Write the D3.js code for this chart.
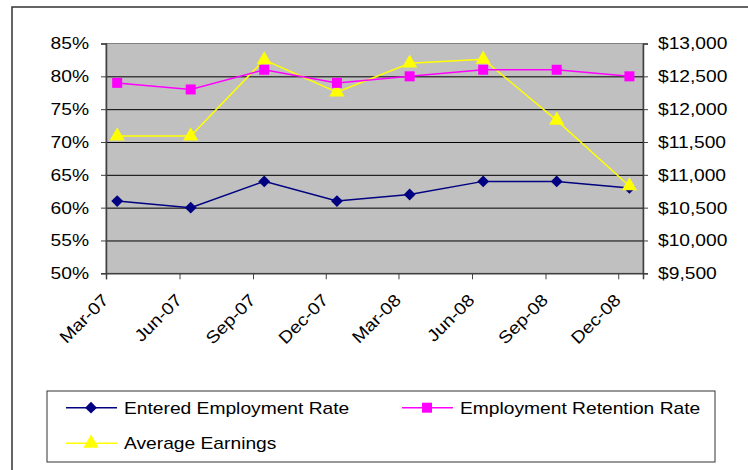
<!DOCTYPE html>
<html><head><meta charset="utf-8">
<script src="https://cdn.jsdelivr.net/npm/d3@7"></script>
<style>
body{margin:0;background:#fff}
text{font-family:"Liberation Sans",Arial,sans-serif;fill:#000}
text.st{font-size:17px}
</style>
</head><body>
<svg id="chart" width="748" height="470"></svg>
<script>
// ---- data ----
const categories = ["Mar-07","Jun-07","Sep-07","Dec-07","Mar-08","Jun-08","Sep-08","Dec-08"];
const tickDates  = ["2007-03-01","2007-06-01","2007-09-01","2007-12-01","2008-03-01","2008-06-01","2008-09-01","2008-12-01"];
const pointDates = ["2007-03-15","2007-06-15","2007-09-15","2007-12-15","2008-03-15","2008-06-15","2008-09-15","2008-12-15"];
const enteredEmploymentRate   = [0.61,0.60,0.64,0.61,0.62,0.64,0.64,0.63];
const employmentRetentionRate = [0.79,0.78,0.81,0.79,0.80,0.81,0.81,0.80];
const averageEarnings         = [11590,11590,12750,12260,12700,12760,11830,10830];
const leftTicks  = [0.50,0.55,0.60,0.65,0.70,0.75,0.80,0.85];
const rightTicks = [9500,10000,10500,11000,11500,12000,12500,13000];
const seriesNames = ["Entered Employment Rate","Employment Retention Rate","Average Earnings"];

// ---- layout ----
const svg = d3.select("#chart");
const P = {l:106, r:643, t:43.5, b:273.3};
const parse = d3.utcParse("%Y-%m-%d");
const x = d3.scaleUtc().domain([parse("2007-03-01"), parse("2009-01-01")]).range([P.l, P.r]);
const yL = d3.scaleLinear().domain([0.5,0.85]).range([P.b, P.t]);
const yR = d3.scaleLinear().domain([9500,13000]).range([P.b, P.t]);
const STRETCH = 1.13;

// outer chart border
svg.append("rect").attr("x",12).attr("y",7).attr("width",800).attr("height",500)
  .attr("fill","#fff").attr("stroke","#333").attr("stroke-width",1.5);

// plot area
svg.append("rect").attr("x",P.l).attr("y",P.t).attr("width",P.r-P.l).attr("height",P.b-P.t)
  .attr("fill","#c0c0c0").attr("stroke","#808080").attr("stroke-width",1);

// gridlines
svg.append("g").attr("transform",`translate(${P.l},0)`)
  .call(d3.axisLeft(yL).tickValues(leftTicks.slice(1,-1)).tickSize(-(P.r-P.l)).tickFormat(""))
  .call(g=>g.select(".domain").remove())
  .call(g=>g.selectAll("line").attr("stroke","#000").attr("stroke-width",1));

function styleAxis(g){
  g.attr("font-size",null).attr("font-family",null);
  g.select(".domain").attr("stroke","#404040").attr("stroke-width",1.5);
  g.selectAll("line").attr("stroke","#404040");
  g.selectAll("text").attr("class","st");
}

// left axis
svg.append("g").attr("transform",`translate(${P.l},0)`)
  .call(d3.axisLeft(yL).tickValues(leftTicks).tickSize(5).tickPadding(12).tickFormat(d3.format(".0%")))
  .call(styleAxis);

// right axis
svg.append("g").attr("transform",`translate(${P.r},0)`)
  .call(d3.axisRight(yR).tickValues(rightTicks).tickSize(5).tickPadding(10).tickFormat(d3.format("$,")))
  .call(styleAxis);

// bottom axis
svg.append("g").attr("transform",`translate(0,${P.b})`)
  .call(d3.axisBottom(x).tickValues(tickDates.map(parse)).tickSize(6).tickFormat((d,i)=>categories[i]))
  .call(styleAxis)
  .call(g=>g.selectAll("text")
     .attr("x",0).attr("y",0).attr("dy",null).attr("text-anchor","end")
     .attr("transform","translate(3,28) rotate(-45)"));

// series
const dates = pointDates.map(parse);
const series = [
  {name:seriesNames[0], vals:enteredEmploymentRate, y:yL, color:"#000080", sym:d3.symbolSquare, size:70, rot:45},
  {name:seriesNames[1], vals:employmentRetentionRate, y:yL, color:"#ff00ff", sym:d3.symbolSquare, size:100, rot:0},
  {name:seriesNames[2], vals:averageEarnings, y:yR, color:"#ffff00", sym:d3.symbolTriangle, size:100, rot:0}
];
const drawOrder = [0,2,1];
drawOrder.forEach(k=>{
  const s = series[k];
  const line = d3.line().x((d,i)=>x(dates[i])).y(d=>s.y(d));
  svg.append("path").attr("d",line(s.vals)).attr("fill","none").attr("stroke",s.color).attr("stroke-width",1.5);
  svg.append("g").selectAll("path").data(s.vals).join("path")
    .attr("transform",(d,i)=>`translate(${x(dates[i])},${s.y(d)}) rotate(${s.rot})`)
    .attr("d",d3.symbol(s.sym,s.size)).attr("fill",s.color);
});

// legend
svg.append("rect").attr("x",47).attr("y",391).attr("width",668).attr("height",71)
  .attr("fill","#fff").attr("stroke","#333").attr("stroke-width",1);
const legPos = [[66,407.7],[402,407.7],[66,443.3]];
series.forEach((s,k)=>{
  const [lx,ly] = legPos[k];
  const g = svg.append("g");
  g.append("line").attr("x1",lx).attr("x2",lx+51).attr("y1",ly).attr("y2",ly)
    .attr("stroke",s.color).attr("stroke-width",1.5);
  g.append("path").attr("transform",`translate(${lx+25},${ly}) rotate(${s.rot})`)
    .attr("d",d3.symbol(s.sym,s.size)).attr("fill",s.color);
  g.append("text").attr("class","st").attr("x",lx+58).attr("y",ly).attr("dy","0.36em").text(s.name);
});

// widen text to match the reference rendering
svg.selectAll("text.st").each(function(){
  const w = this.getComputedTextLength();
  this.setAttribute("textLength", (w*STRETCH).toFixed(1));
  this.setAttribute("lengthAdjust","spacingAndGlyphs");
});
</script>
</body></html>
